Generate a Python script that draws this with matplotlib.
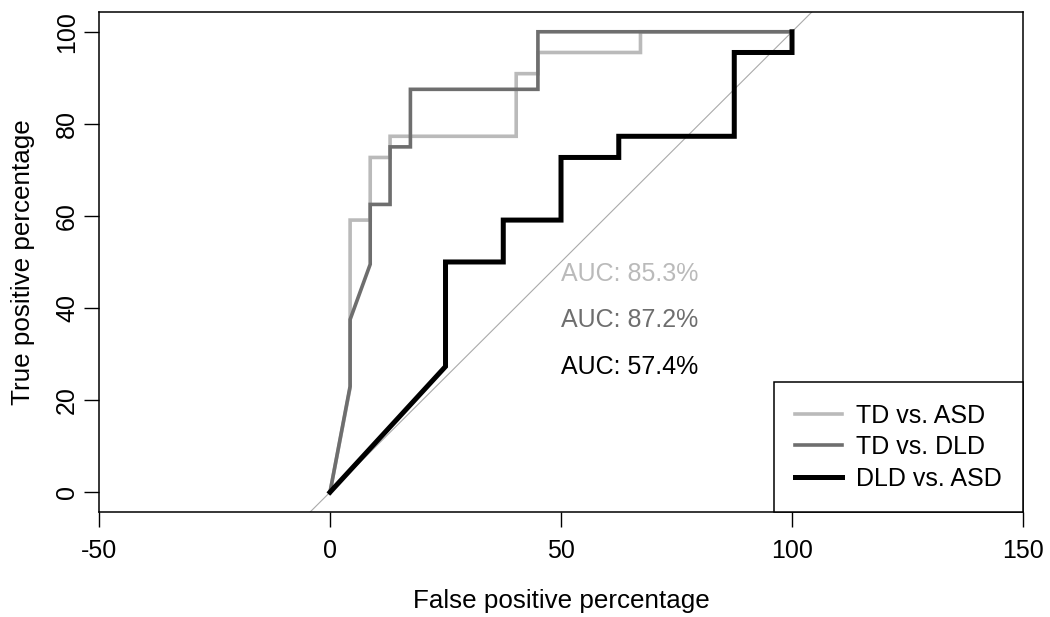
import matplotlib
matplotlib.use('Agg')
import matplotlib.pyplot as plt

plt.rcParams['font.family'] = ['Liberation Sans', 'DejaVu Sans']
plt.rcParams['axes.unicode_minus'] = False

# ROC points (false positive %, true positive %)
td_asd_fpr = [0, 4.35, 4.35, 8.7, 8.7, 13.0, 13.0, 40.3, 40.3, 45.0, 45.0, 67.2, 67.2, 100]
td_asd_tpr = [0, 22.7, 59.1, 59.1, 72.7, 72.7, 77.3, 77.3, 90.9, 90.9, 95.5, 95.5, 100, 100]

td_dld_fpr = [0, 4.35, 4.35, 8.7, 8.7, 13.0, 13.0, 17.4, 17.4, 45.0, 45.0, 100]
td_dld_tpr = [0, 23.0, 37.5, 49.5, 62.5, 62.5, 75.0, 75.0, 87.5, 87.5, 100, 100]

dld_asd_fpr = [0, 25, 25, 37.5, 37.5, 50, 50, 62.5, 62.5, 87.5, 87.5, 100, 100]
dld_asd_tpr = [0, 27.3, 50, 50, 59.1, 59.1, 72.7, 72.7, 77.3, 77.3, 95.5, 95.5, 100]

labels = ['TD vs. ASD', 'TD vs. DLD', 'DLD vs. ASD']
auc_text = ['AUC: 85.3%', 'AUC: 87.2%', 'AUC: 57.4%']
auc_y = [47.4, 37.3, 27.2]
colors = ['#bababa', '#6e6e6e', '#000000']
widths = [2.6, 2.6, 3.6]

fig = plt.figure(figsize=(10.5, 6.17), dpi=100)
ax = fig.add_axes([0.0943, 0.1702, 0.88, 0.8104])

ax.axline((0, 0), (100, 100), color='#aaaaaa', lw=0.8, zorder=1)

curves = [(td_asd_fpr, td_asd_tpr), (td_dld_fpr, td_dld_tpr), (dld_asd_fpr, dld_asd_tpr)]
for (fx, ty), lab, c, w in zip(curves, labels, colors, widths):
    ax.plot(fx, ty, color=c, lw=w, label=lab, solid_joinstyle='miter', zorder=2)

for t, y, c in zip(auc_text, auc_y, colors):
    ax.text(50, y, t, color=c, fontsize=18, ha='left', va='center')

ax.set_xlim(-50, 150)
ax.set_ylim(-4.3, 104.3)
ax.set_xticks([-50, 0, 50, 100, 150])
ax.set_yticks([0, 20, 40, 60, 80, 100])
ax.tick_params(length=10.5, width=1, labelsize=18)
ax.tick_params(axis='x', pad=9)
ax.tick_params(axis='y', pad=4)
plt.setp(ax.get_yticklabels(), rotation=90, va='center')
for s in ax.spines.values():
    s.set_linewidth(1.1)

ax.set_xlabel('False positive percentage', fontsize=18.7, labelpad=19)
ax.set_ylabel('True positive percentage', fontsize=18.7, labelpad=14.5)

leg = ax.legend(loc='lower right', fontsize=18, borderaxespad=0, fancybox=False,
                framealpha=1, edgecolor='black', handlelength=1.9, handletextpad=0.55,
                labelspacing=0.3, borderpad=0.85)
leg.get_frame().set_linewidth(1.1)

fig.savefig('out.png', dpi=100)
